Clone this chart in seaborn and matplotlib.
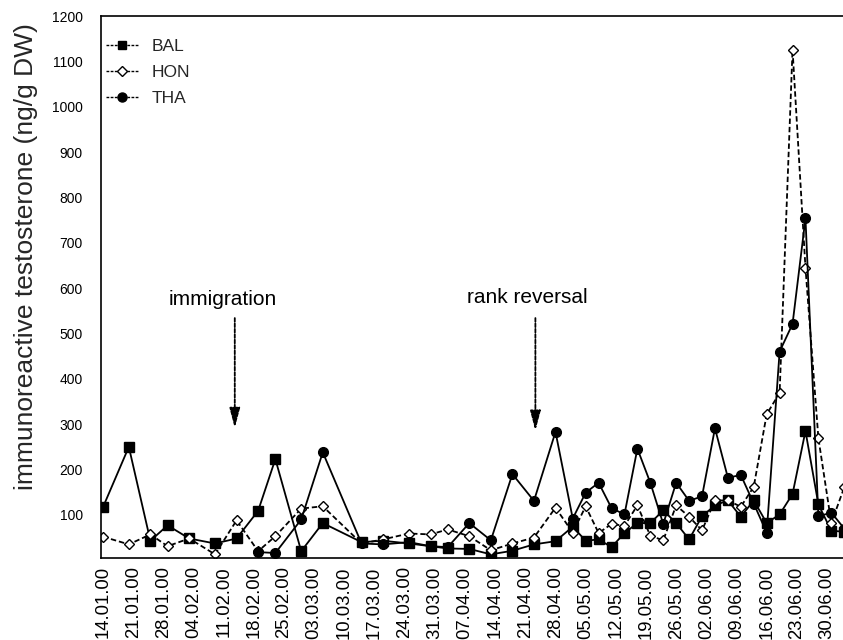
import numpy as np
import pandas as pd
import matplotlib
matplotlib.use("Agg")
import matplotlib.pyplot as plt
from matplotlib.lines import Line2D
import seaborn as sns

# ---------------- data ----------------
sample_dates = ["14.01.00", "20.01.00", "25.01.00", "29.01.00", "03.02.00", "09.02.00",
                "14.02.00", "19.02.00", "23.02.00", "29.02.00", "05.03.00", "14.03.00",
                "19.03.00", "25.03.00", "30.03.00", "03.04.00", "08.04.00", "13.04.00",
                "18.04.00", "23.04.00", "28.04.00", "02.05.00", "05.05.00", "08.05.00",
                "11.05.00", "14.05.00", "17.05.00", "20.05.00", "23.05.00", "26.05.00",
                "29.05.00", "01.06.00", "04.06.00", "07.06.00", "10.06.00", "13.06.00",
                "16.06.00", "19.06.00", "22.06.00", "25.06.00", "28.06.00", "01.07.00",
                "04.07.00"]
bal = [117, 250, 43, 77, 48, 37, 48, 109, 223, 20,
       82, 40, 43, 37, 31, 26, 25, 13, 21, 35,
       42, 74, 43, 46, 29, 60, 82, 82, 110, 82,
       46, 97, 121, 132, 96, 132, 82, 101, 146, 285,
       123, 65, 63]
hon = [52, 35, 57, 31, 48, 13, 88, 20, 53, 114,
       119, 37, 46, 59, 57, 68, 53, 22, 37, 50,
       116, 61, 119, 60, 80, 76, 121, 54, 44, 121,
       96, 66, 132, 132, 118, 162, 322, 369, 1126, 645,
       269, 82, 161]
tha = [np.nan, np.nan, np.nan, np.nan, np.nan, np.nan, np.nan, 18, 16, 90,
       238, 37, 35, 40, 31, 29, 82, 44, 190, 131,
       283, 92, 149, 171, 115, 101, 246, 171, 80, 171,
       131, 141, 291, 182, 188, 125, 61, 460, 521, 754,
       97, 105, 70]
series_names = ["BAL", "HON", "THA"]

tick_labels = ["14.01.00", "21.01.00", "28.01.00", "04.02.00", "11.02.00", "18.02.00",
               "25.02.00", "03.03.00", "10.03.00", "17.03.00", "24.03.00", "31.03.00",
               "07.04.00", "14.04.00", "21.04.00", "28.04.00", "05.05.00", "12.05.00",
               "19.05.00", "26.05.00", "02.06.00", "09.06.00", "16.06.00", "23.06.00",
               "30.06.00"]
y_ticks = [100, 200, 300, 400, 500, 600, 700, 800, 900, 1000, 1100, 1200]

event_labels = ["immigration", "rank reversal"]
event_text_dates = ["2000-02-10 19:00", "2000-04-21 09:00"]
event_text_values = [574, 580]
event_arrow_dates = ["2000-02-13 14:00", "2000-04-23 08:00"]
event_arrow_from = [534, 534]
event_arrow_to = [292, 286]

# ---------------- styling ----------------
sns.set_theme(style="white")
plt.rcParams["font.family"] = ["Liberation Sans", "DejaVu Sans"]

W, H = 843, 640
fig = plt.figure(figsize=(W / 100, H / 100), dpi=100)
ax = fig.add_axes([101 / W, 1 - 558 / H, 1 - 101 / W, (558 - 16) / H])

dates = pd.to_datetime(sample_dates, format="%d.%m.%y")
df = pd.DataFrame({"date": list(dates) * 3,
                   "value": bal + hon + tha,
                   "ind": [n for n in series_names for _ in sample_dates]}).dropna()

styles = {
    "BAL": dict(marker="s", markersize=6.5, markerfacecolor="black", linestyle="-"),
    "HON": dict(marker="D", markersize=5.2, markerfacecolor="white", linestyle=(0, (3, 1.6))),
    "THA": dict(marker="o", markersize=7, markerfacecolor="black", linestyle="-"),
}
for name in series_names:
    sub = df[df["ind"] == name]
    sns.lineplot(data=sub, x="date", y="value", ax=ax, color="black", lw=1.3,
                 markeredgecolor="black", markeredgewidth=1.0, legend=False,
                 **styles[name])

# annotations
for lab, tx, tv, axd, a0, a1 in zip(event_labels, event_text_dates, event_text_values,
                                   event_arrow_dates, event_arrow_from, event_arrow_to):
    ax.text(pd.Timestamp(tx), tv, lab, ha="center", va="center", fontsize=15, color="black")
    ax.annotate("", xy=(pd.Timestamp(axd), a1), xytext=(pd.Timestamp(axd), a0),
                arrowprops=dict(arrowstyle="-|>,head_length=1.2,head_width=0.32",
                                linestyle=(0, (2, 1)), lw=1.3, color="black",
                                mutation_scale=10, shrinkA=0, shrinkB=0))

# axes limits and ticks
ax.set_xlim(pd.Timestamp("2000-01-13 13:00"), pd.Timestamp("2000-07-03 17:00"))
ax.set_ylim(5, 1200)
tick_pos = pd.to_datetime(tick_labels, format="%d.%m.%y")
ax.set_xticks(tick_pos)
ax.set_xticklabels(tick_labels, rotation=90, fontsize=13.3)
ax.set_yticks(y_ticks)
ax.set_yticklabels([str(v) for v in y_ticks], fontsize=10)
ax.tick_params(axis="x", direction="in", length=4, width=1, pad=6, colors="black")
ax.tick_params(axis="y", direction="in", length=3, width=1, pad=13, colors="black")
ax.set_xlabel("")
ax.set_ylabel("immunoreactive testosterone (ng/g DW)", fontsize=19, labelpad=10)
ax.yaxis.label.set_y(0.557)

for side in ["left", "top", "bottom"]:
    ax.spines[side].set_linestyle((0, (2, 1)))
    ax.spines[side].set_linewidth(1.2)
    ax.spines[side].set_color("black")
ax.spines["right"].set_visible(False)
ax.grid(False)

# legend
handles = [Line2D([], [], color="black", lw=1.0, linestyle=(0, (2, 1)),
                  marker=styles[n]["marker"], markersize=styles[n]["markersize"] - 0.5,
                  markerfacecolor=styles[n]["markerfacecolor"], markeredgecolor="black")
           for n in series_names]
ax.legend(handles, series_names, loc="upper left", bbox_to_anchor=(106 / W, 1 - 39 / H),
          bbox_transform=fig.transFigure, frameon=False, fontsize=12.5,
          handlelength=1.9, handletextpad=0.7, labelspacing=0.62, borderpad=0,
          borderaxespad=0)

fig.savefig("out.png", dpi=100)
